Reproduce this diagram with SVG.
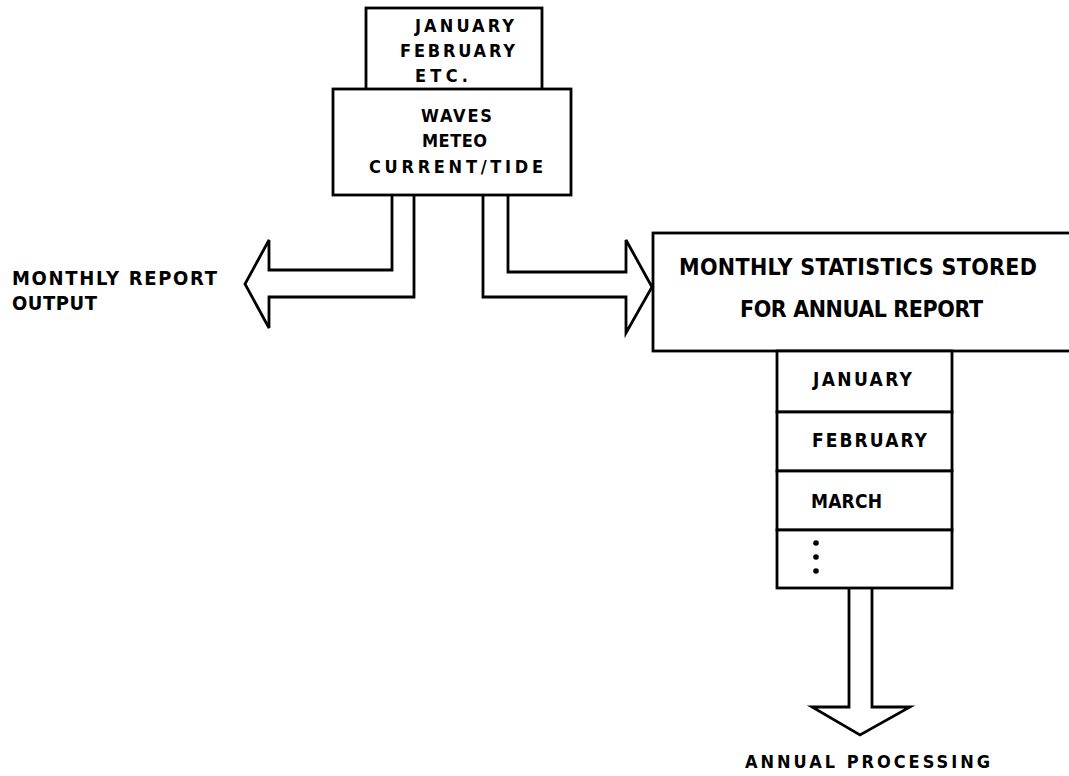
<svg xmlns="http://www.w3.org/2000/svg" width="1069" height="776" viewBox="0 0 1069 776">
<style>
.box{fill:#fff;stroke:#000;stroke-width:2.8}
.arr{fill:#fff;stroke:#000;stroke-width:2.8;stroke-linejoin:miter}
.t{font-family:"DejaVu Sans Condensed","DejaVu Sans",sans-serif;font-stretch:condensed;font-weight:bold;fill:#000}
.s19{font-size:18px}
.s20{font-size:19px}
.s21{font-size:20px}
.s24{font-size:23px}
</style>
<rect width="1069" height="776" fill="#fff"/>
<g id="connectors">
<path class="arr" d="M392,195 L392,270 L269,270 L269,240 L245,284 L269,328 L269,297 L414,297 L414,195"/>
<path class="arr" d="M508,195 L508,272 L626,272 L626,240 L652,287 L626,333 L626,297 L483,297 L483,195"/>
<path class="arr" d="M849,588 L849,707 L812,707 L860,735 L910,707 L872,707 L872,588"/>
</g>
<g id="months-input">
<rect class="box" x="366" y="8" width="176" height="84"/>
<text class="t s19" x="415" y="32" textLength="99" lengthAdjust="spacing">JANUARY</text>
<text class="t s19" x="400" y="57" textLength="115" lengthAdjust="spacing">FEBRUARY</text>
<text class="t s19" x="415" y="82" textLength="53" lengthAdjust="spacing">ETC.</text>
</g>
<g id="data-types">
<rect class="box" x="333" y="89" width="238" height="106"/>
<text class="t s19" x="421" y="122" textLength="71" lengthAdjust="spacing">WAVES</text>
<text class="t s19" x="422" y="147" textLength="65" lengthAdjust="spacing">METEO</text>
<text class="t s19" x="369" y="173" textLength="174" lengthAdjust="spacing">CURRENT/TIDE</text>
</g>
<g id="monthly-report">
<text class="t s21" x="12" y="285" textLength="205" lengthAdjust="spacing">MONTHLY REPORT</text>
<text class="t s21" x="12" y="310" textLength="85" lengthAdjust="spacing">OUTPUT</text>
</g>
<g id="monthly-statistics">
<rect class="box" x="653" y="233" width="430" height="118"/>
<text class="t s24" x="679" y="275" textLength="358" lengthAdjust="spacing">MONTHLY STATISTICS STORED</text>
<text class="t s24" x="740" y="317" textLength="243" lengthAdjust="spacing">FOR ANNUAL REPORT</text>
</g>
<g id="month-stack">
<rect class="box" x="777" y="351" width="175" height="61"/>
<rect class="box" x="777" y="412" width="175" height="59"/>
<rect class="box" x="777" y="471" width="175" height="59"/>
<rect class="box" x="777" y="530" width="175" height="58"/>
<text class="t s20" x="813" y="386" textLength="99" lengthAdjust="spacing">JANUARY</text>
<text class="t s20" x="812" y="447" textLength="115" lengthAdjust="spacing">FEBRUARY</text>
<text class="t s20" x="811" y="508" textLength="71" lengthAdjust="spacing">MARCH</text>
<circle cx="816" cy="543" r="2.8"/>
<circle cx="816" cy="557" r="2.8"/>
<circle cx="816" cy="571" r="2.8"/>
</g>
<g id="annual-processing">
<text class="t s19" x="745" y="768" textLength="245" lengthAdjust="spacing">ANNUAL PROCESSING</text>
</g>
</svg>
